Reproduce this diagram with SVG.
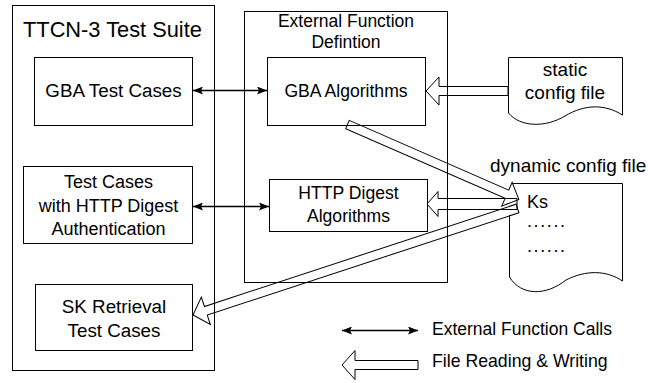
<svg xmlns="http://www.w3.org/2000/svg" width="648" height="383" viewBox="0 0 648 383">
<defs>
<style>
.box{fill:#fff;stroke:#000;stroke-width:1}
.t{font-family:"Liberation Sans",Arial,sans-serif;fill:#000;text-anchor:middle}
.l{font-family:"Liberation Sans",Arial,sans-serif;fill:#000}
.call{stroke:#000;stroke-width:1.5;fill:none;marker-start:url(#ah);marker-end:url(#ah)}
.file{fill:none;stroke:#000;stroke-width:1;stroke-linejoin:miter}
</style>
<marker id="ah" viewBox="0 0 10 8" refX="10" refY="4" markerWidth="10" markerHeight="8" markerUnits="userSpaceOnUse" orient="auto-start-reverse">
<path d="M0,0 L10,4 L0,8 L2,4 Z" fill="#000"/>
</marker>
</defs>
<rect width="648" height="383" fill="#fff"/>

<g id="ttcn3-suite">
<rect class="box" x="12.5" y="5.5" width="202" height="365"/>
<text class="l" x="23" y="36.5" font-size="21.8">TTCN-3 Test Suite</text>
</g>

<g id="ext-func">
<rect class="box" x="244.5" y="11.5" width="203" height="271"/>
<text class="t" x="346" y="27" font-size="17.5">External Function</text>
<text class="t" x="346" y="48.3" font-size="17.5">Defintion</text>
</g>

<g id="gba-test-cases">
<rect class="box" x="34.5" y="57.5" width="158" height="68"/>
<text class="t" x="113.5" y="96.7" font-size="18.8">GBA Test Cases</text>
</g>

<g id="http-test-cases">
<rect class="box" x="23.5" y="166.5" width="169" height="77"/>
<text class="t" x="108.5" y="188" font-size="18">Test Cases</text>
<text class="t" x="108.5" y="211.5" font-size="18">with HTTP Digest</text>
<text class="t" x="108.5" y="235" font-size="18">Authentication</text>
</g>

<g id="sk-retrieval">
<rect class="box" x="35.5" y="284.5" width="157" height="66"/>
<text class="t" x="114" y="313.3" font-size="18.8">SK Retrieval</text>
<text class="t" x="114" y="336.5" font-size="18.8">Test Cases</text>
</g>

<g id="gba-algorithms">
<rect class="box" x="267.5" y="57.5" width="158" height="68"/>
<text class="t" x="346" y="96.7" font-size="17.6">GBA Algorithms</text>
</g>

<g id="http-digest-algorithms">
<rect class="box" x="269.5" y="179.5" width="158" height="52"/>
<text class="t" x="348.5" y="199.3" font-size="17.6">HTTP Digest</text>
<text class="t" x="348.5" y="221.7" font-size="17.6">Algorithms</text>
</g>

<g id="static-config">
<path class="box" d="M508.5,57.5 H622.5 V115 C605,104 585,104 565,116 C545,128 520,127 508.5,113 Z"/>
<text class="t" x="565" y="76" font-size="19">static</text>
<text class="t" x="565" y="99.3" font-size="19">config file</text>
</g>

<g id="dynamic-config">
<text class="l" x="490" y="171.7" font-size="19">dynamic config file</text>
<path class="box" d="M509.5,215 V277 C521,296 546,296 566,280 C586,270 606,270 622.5,281 V183.5 H512"/>
<text class="l" x="527" y="208" font-size="18">Ks</text>
<text class="l" x="527" y="226.7" font-size="18" letter-spacing="1.6">......</text>
<text class="l" x="527" y="252.3" font-size="18" letter-spacing="1.6">......</text>
</g>

<g id="connectors">
<line class="call" x1="193" y1="90.5" x2="267" y2="90.5"/>
<line class="call" x1="193" y1="206.5" x2="269" y2="206.5"/>
<path class="file" d="M508,86.5 H439 V77 L426,91 L439,105 V95.5 H508 Z"/>
<path class="file" d="M517,198.5 H438 V191.5 L427,204 L438,216.5 V209.5 H517 Z"/>
<path class="file" transform="translate(347.5,124.5) rotate(23.62)" d="M0,-4.5 H174 V-13 L187,0 L174,13 V4.5 H0 Z"/>
<path class="file" transform="translate(517.5,208.5) rotate(161.83)" d="M0,-4.5 H328 V-14.5 L341.5,0 L328,14.5 V4.5 H0 Z"/>
</g>

<g id="legend">
<line class="call" x1="342" y1="330.5" x2="418" y2="330.5"/>
<text class="l" x="432" y="335" font-size="17.5">External Function Calls</text>
<path class="file" d="M418,360.5 H355 V350.5 L342,365 L355,379.5 V369.5 H418 Z"/>
<text class="l" x="432" y="366.7" font-size="17.7">File Reading &amp; Writing</text>
</g>
</svg>
